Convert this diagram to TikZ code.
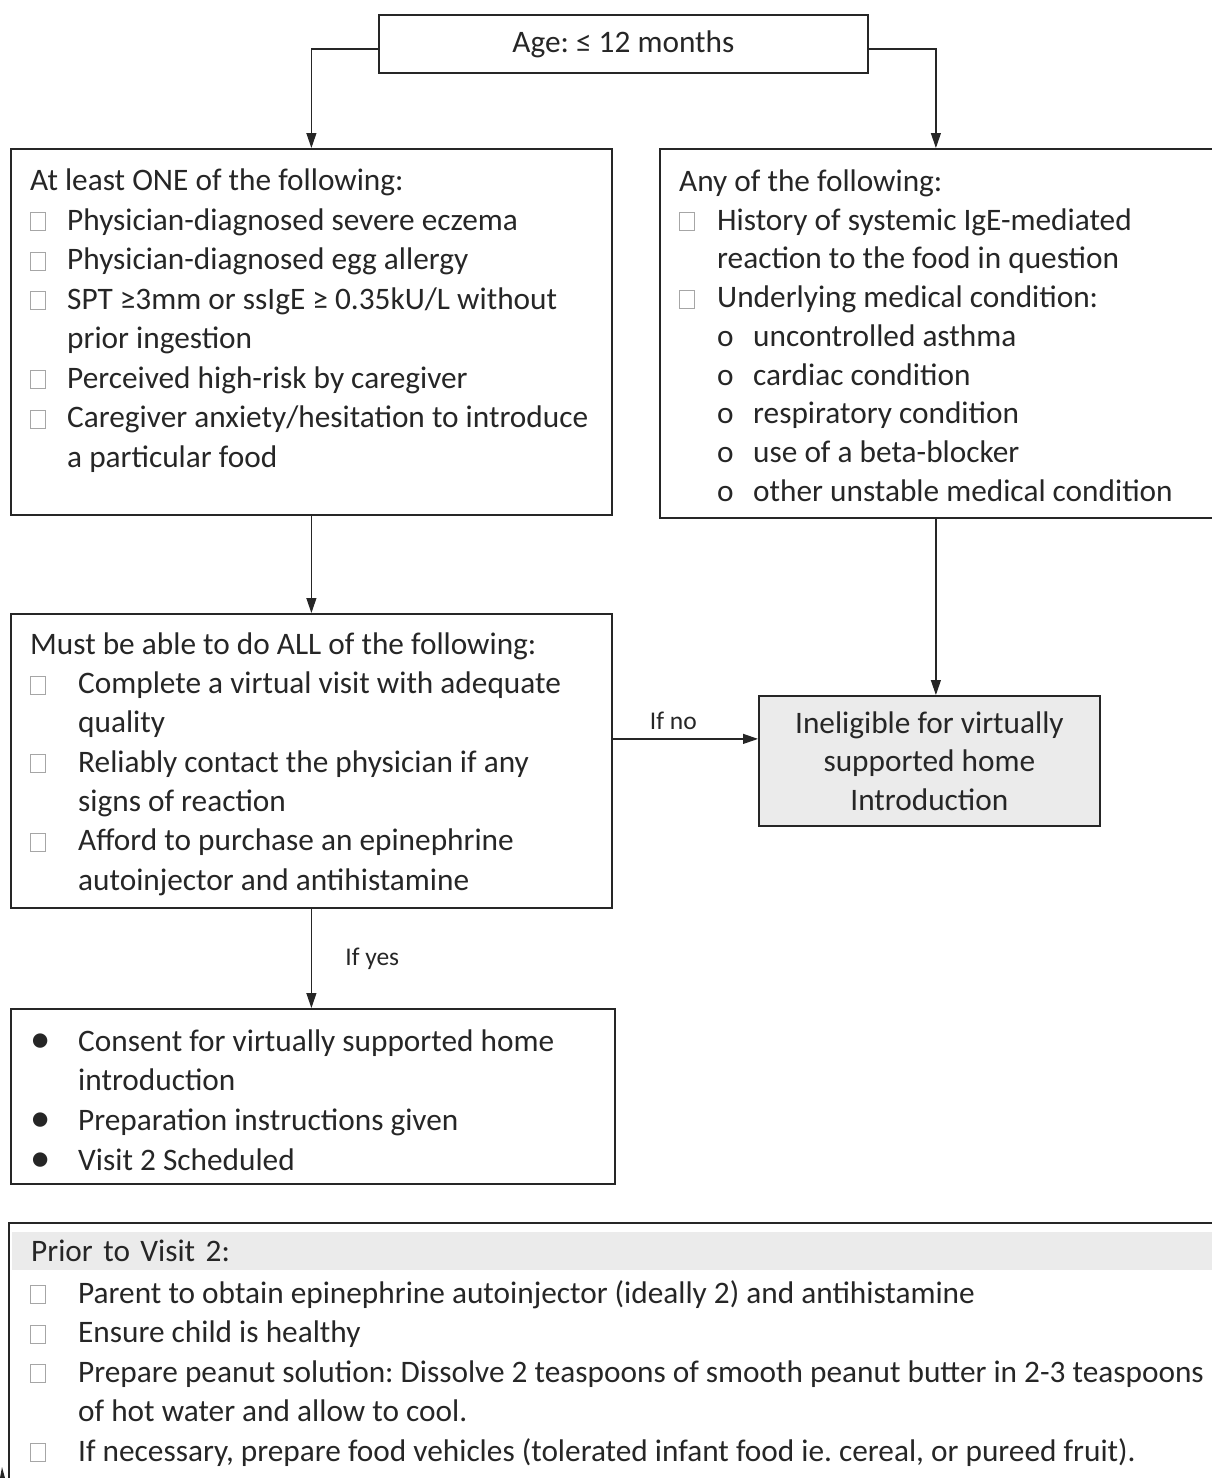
\documentclass[tikz,border=0pt]{standalone}
\usepackage{fontspec}
\setmainfont{Carlito}
\usepackage{graphicx}
\usetikzlibrary{arrows.meta,positioning}

\definecolor{ink}{HTML}{262626}
\definecolor{chkgray}{HTML}{A6A6A6}
\definecolor{shade}{HTML}{EBEBEB}

% list marks
\newcommand{\chk}{\leavevmode{\color{chkgray}\setlength{\fboxsep}{0pt}\setlength{\fboxrule}{0.9pt}\fbox{\rule{0pt}{17pt}\hspace{14pt}}}}
\newcommand{\bul}{\leavevmode\raisebox{-1pt}{\scalebox{1.3}{\textbullet}}}
\newcommand{\subo}{\makebox[36pt][l]{o}}
\frenchspacing

\begin{document}
\begin{tikzpicture}[x=1pt, y=-1pt, font=\fontsize{31.3}{39.5}\selectfont, color=ink,
    panel/.style={draw=ink, line width=1.8pt, inner sep=0pt, anchor=north west},
    list/.style={inner sep=0pt, anchor=north west},
    arr/.style={-{Triangle[length=15pt,width=10pt]}, line width=1.2pt},
    tag/.style={font=\fontsize{25.5}{30}\selectfont}]
    \clip (0,0) rectangle (1212,1478);

    % Boxes
    \node[panel, minimum width=489pt, minimum height=58pt] (age) at (378,14) {Age: ≤ 12 months};
    \node[panel, minimum width=601pt, minimum height=366pt] (crit) at (10,148) {};
    \node[panel, minimum width=557pt, minimum height=369pt] (excl) at (659,148) {};
    \node[panel, minimum width=601pt, minimum height=294pt] (mustdo) at (10,613) {};
    \node[panel, fill=shade, minimum width=341pt, minimum height=130pt, align=center, font=\fontsize{31.3}{38.5}\selectfont] (inel) at (758,695) {Ineligible for virtually\\supported home\\Introduction};
    \node[panel, minimum width=604pt, minimum height=175pt] (plan) at (10,1008) {};
    \node[panel, minimum width=1212pt, minimum height=270pt] (prior) at (8,1222) {};
    \node[fill=shade, inner sep=0pt, anchor=north west, text width=1205pt, minimum height=38pt, align=left] (priorbar) at (12,1232) {\hspace*{19pt}Prior to Visit 2:};

    % Box texts
    \node[list] (critList) at (30,163) {\begin{tabular}{@{}p{37pt}@{}l@{}}
        \multicolumn{2}{@{}l@{}}{At least ONE of the following:}\\
        \chk & Physician-diagnosed severe eczema\\
        \chk & Physician-diagnosed egg allergy\\
        \chk & SPT ≥3mm or ssIgE ≥ 0.35kU/L without\\
             & prior ingestion\\
        \chk & Perceived high-risk by caregiver\\
        \chk & Caregiver anxiety/hesitation to introduce\\
             & a particular food
    \end{tabular}};
    \node[list, font=\fontsize{31.3}{38.75}\selectfont] (exclList) at (679,164) {\begin{tabular}{@{}p{38pt}@{}l@{}}
        \multicolumn{2}{@{}l@{}}{Any of the following:}\\
        \chk & History of systemic IgE-mediated\\
             & reaction to the food in question\\
        \chk & Underlying medical condition:\\
             & \subo uncontrolled asthma\\
             & \subo cardiac condition\\
             & \subo respiratory condition\\
             & \subo use of a beta-blocker\\
             & \subo other unstable medical condition
    \end{tabular}};
    \node[list, font=\fontsize{31.3}{39.3}\selectfont] (mustdoList) at (30,626.5) {\begin{tabular}{@{}p{48pt}@{}l@{}}
        \multicolumn{2}{@{}l@{}}{Must be able to do ALL of the following:}\\
        \chk & Complete a virtual visit with adequate\\
             & quality\\
        \chk & Reliably contact the physician if any\\
             & signs of reaction\\
        \chk & Afford to purchase an epinephrine\\
             & autoinjector and antihistamine
    \end{tabular}};
    \node[list, font=\fontsize{31.3}{39.7}\selectfont] (planList) at (30,1023) {\begin{tabular}{@{}p{48pt}@{}l@{}}
        \bul & Consent for virtually supported home\\
             & introduction\\
        \bul & Preparation instructions given\\
        \bul & Visit 2 Scheduled
    \end{tabular}};
    \node[list] (priorList) at (30,1275.5) {\begin{tabular}{@{}p{48pt}@{}l@{}}
        \chk & Parent to obtain epinephrine autoinjector (ideally 2) and antihistamine\\
        \chk & Ensure child is healthy\\
        \chk & Prepare peanut solution: Dissolve 2 teaspoons of smooth peanut butter in 2-3 teaspoons\\
             & of hot water and allow to cool.\\
        \chk & If necessary, prepare food vehicles (tolerated infant food ie. cereal, or pureed fruit).
    \end{tabular}};

    % Arrows
    \draw[arr] ([yshift=-5pt]age.west) -| (crit.north);
    \draw[arr] ([yshift=-5pt]age.east) -| ([xshift=-2.5pt]excl.north);
    \draw[arr] (crit.south) -- (mustdo.north);
    \draw[arr] ([xshift=-2.5pt]excl.south) -- ([xshift=-2.5pt]excl.south |- inel.north);
    \draw[arr] ([yshift=22pt]mustdo.east) -- ([yshift=22pt]inel.west) node[tag, midway, above=5pt, xshift=-12pt] {If no};
    \draw[arr] (mustdo.south) -- (mustdo.south |- plan.north) node[tag, midway, right=30pt] {If yes};

    \fill (0,1478) -- (2,1467) -- (5,1478) -- cycle;
\end{tikzpicture}
\end{document}
